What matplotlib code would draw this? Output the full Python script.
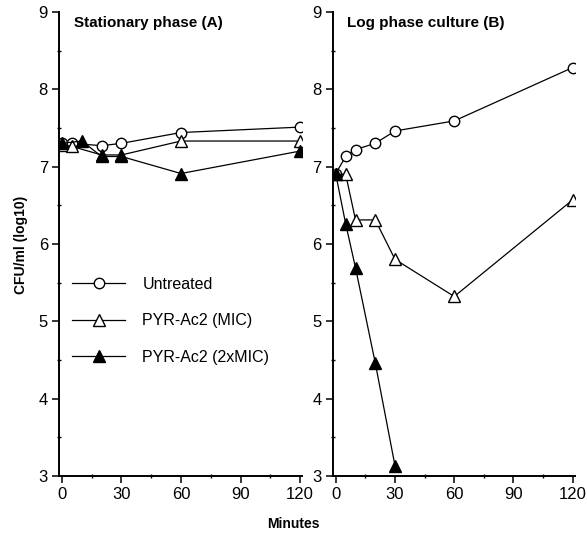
import numpy as np
import matplotlib.pyplot as plt
from matplotlib.ticker import MultipleLocator

plt.rcParams['font.family'] = ['Liberation Sans', 'DejaVu Sans']

# Stationary phase (A)
a_t_untr = [0, 5, 20, 30, 60, 120]
a_untr = [7.30, 7.30, 7.27, 7.30, 7.44, 7.51]
a_t_mic = [0, 5, 20, 30, 60, 120]
a_mic = [7.28, 7.26, 7.15, 7.15, 7.33, 7.33]
a_t_2mic = [0, 10, 20, 30, 60, 120]
a_2mic = [7.30, 7.33, 7.13, 7.13, 6.91, 7.20]

# Log phase culture (B)
b_t_untr = [0, 5, 10, 20, 30, 60, 120]
b_untr = [6.91, 7.13, 7.22, 7.30, 7.46, 7.59, 8.28]
b_t_mic = [0, 5, 10, 20, 30, 60, 120]
b_mic = [6.90, 6.90, 6.31, 6.31, 5.80, 5.32, 6.57]
b_t_2mic = [0, 5, 10, 20, 30]
b_2mic = [6.90, 6.26, 5.69, 4.46, 3.13]

labels = ['Untreated', 'PYR-Ac2 (MIC)', 'PYR-Ac2 (2xMIC)']
titles = ['Stationary phase (A)', 'Log phase culture (B)']

fig = plt.figure(figsize=(5.87, 5.39), dpi=100)
ax1 = fig.add_axes([0.1005, 0.117, 0.414, 0.861])
ax2 = fig.add_axes([0.567, 0.117, 0.412, 0.861])

def draw(ax, tu, u, tm, m, t2, m2, title):
    kw = dict(color='black', lw=0.9)
    ax.plot(tu, u, marker='o', ms=7.5, mfc='white', mec='black', mew=1.0, label=labels[0], **kw)
    ax.plot(tm, m, marker='^', ms=8, mfc='white', mec='black', mew=1.0, label=labels[1], **kw)
    ax.plot(t2, m2, marker='^', ms=8, mfc='black', mec='black', mew=1.0, label=labels[2], **kw)
    ax.set_xlim(-1.5, 121)
    ax.set_ylim(3, 9)
    ax.set_xticks([0, 30, 60, 90, 120])
    ax.set_yticks([3, 4, 5, 6, 7, 8, 9])
    ax.xaxis.set_minor_locator(MultipleLocator(15))
    ax.yaxis.set_minor_locator(MultipleLocator(0.5))
    ax.tick_params(which='major', direction='out', length=5, width=1.1, labelsize=12, pad=3)
    ax.tick_params(which='minor', direction='inout', length=3, width=1.0)
    for s in ['top', 'right']:
        ax.spines[s].set_visible(False)
    for s in ['left', 'bottom']:
        ax.spines[s].set_linewidth(1.4)
    ax.text(0.06, 0.975, title, transform=ax.transAxes, fontsize=11,
            fontweight='bold', va='center', ha='left')

draw(ax1, a_t_untr, a_untr, a_t_mic, a_mic, a_t_2mic, a_2mic, titles[0])
draw(ax2, b_t_untr, b_untr, b_t_mic, b_mic, b_t_2mic, b_2mic, titles[1])

ax1.legend(loc='upper left', bbox_to_anchor=(-0.005, 0.46), frameon=False,
           fontsize=11.5, handlelength=3.3, handletextpad=1.1, labelspacing=1.35)

fig.text(0.035, 0.545, 'CFU/ml (log10)', rotation=90, fontsize=10, fontweight='bold',
         ha='center', va='center')
fig.text(0.5, 0.027, 'Minutes', fontsize=10, fontweight='bold', ha='center', va='center')

fig.savefig('out.png', dpi=100)
